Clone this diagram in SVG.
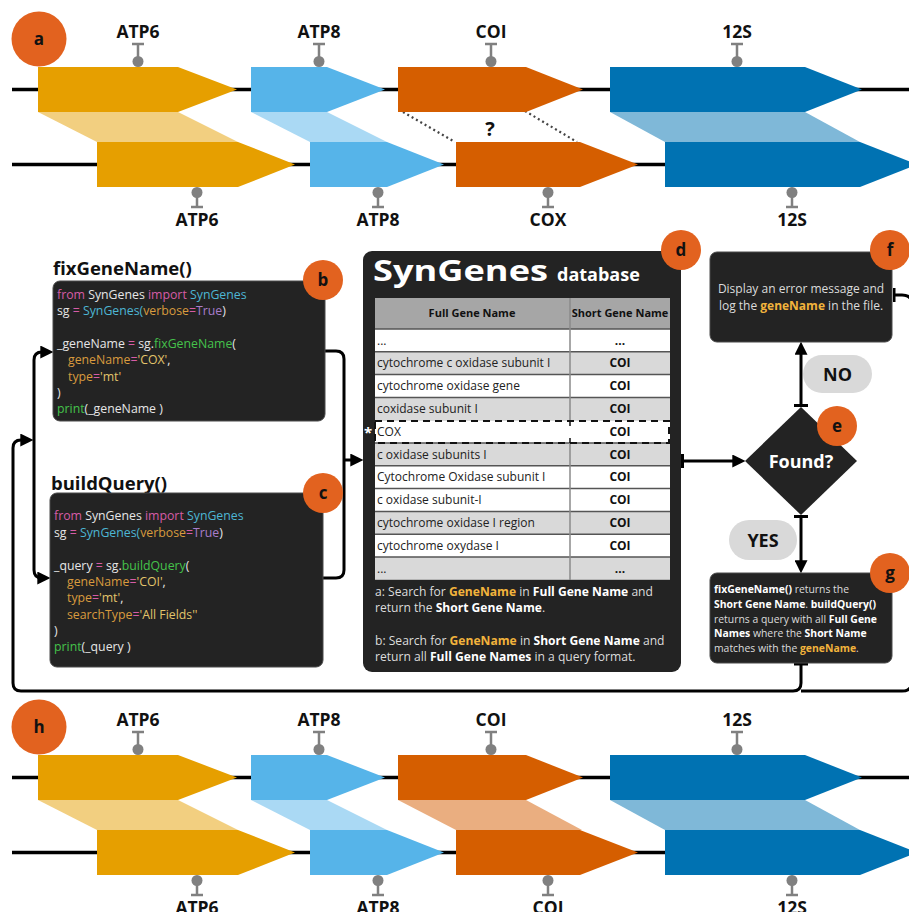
<svg xmlns="http://www.w3.org/2000/svg" width="909" height="912" viewBox="0 0 909 912">
<style>
text{font-family:"Open Sans","Noto Sans","Liberation Sans",sans-serif}
.lbl{font-size:17.5px;font-weight:700;fill:#111;text-anchor:middle}
.ln{stroke:#000;stroke-width:3.5}
.mk{stroke:#808080;stroke-width:2.5;fill:none}
.mkc{fill:#808080}
.g1{fill:#E69F00}.g1l{fill:#F2CF80}
.g2{fill:#56B4E9}.g2l{fill:#AAD9F4}
.g3{fill:#D55E00}.g3l{fill:#EAAE80}
.g4{fill:#0072B2}.g4l{fill:#7FB8D8}
.badge{fill:#E2621F}
.bt{font-size:17px;font-weight:700;fill:#111;text-anchor:middle}
.box{fill:#232323;stroke:#4a4a4a;stroke-width:1}
.code{font-size:12.3px;fill:#E6E6E6}
.kw{fill:#D65CA6}.cy{fill:#4DB6D4}.or{fill:#D99B3E}.pu{fill:#A97DCB}.ye{fill:#E2C46A}.gr{fill:#45C24B}
.ttl{font-size:18.5px;font-weight:700;fill:#111}
.cell{font-size:12px;fill:#222}
.cellb{font-size:12px;fill:#111;font-weight:700;text-anchor:middle}
.cap{font-size:12.1px;fill:#DCDCDC}
.w{font-weight:700;fill:#fff}
.o{font-weight:700;fill:#F2B33C}
.con{fill:none;stroke:#000;stroke-width:3}
.pill{fill:#D9D9D9}
.pt{font-size:18px;font-weight:700;fill:#111;text-anchor:middle}
</style>
<defs>
<marker id="arr" viewBox="0 0 12 12" markerUnits="userSpaceOnUse" markerWidth="13" markerHeight="13" refX="8" refY="6" orient="auto"><path d="M0,0 L12,6 L0,12 z" fill="#000"/></marker>
<marker id="tee" viewBox="0 0 3 14" markerUnits="userSpaceOnUse" markerWidth="3" markerHeight="14" refX="1.5" refY="7" orient="auto"><rect width="3" height="14" fill="#000"/></marker>
<g id="mTop"><path class="mk" d="M-6,44 H6 M0,44 V60"/><circle class="mkc" cx="0" cy="61.5" r="5.5"/></g>
<g id="mBot"><path class="mk" d="M-6,207 H6 M0,207 V193"/><circle class="mkc" cx="0" cy="192.5" r="5.5"/></g>
</defs>
<rect width="909" height="912" fill="#fff"/>

<!-- Panel a -->
<g id="panel-a">
<line class="ln" x1="12" y1="89.5" x2="909" y2="89.5"/>
<line class="ln" x1="12" y1="164.5" x2="909" y2="164.5"/>
<polygon class="g1l" points="38,112 178,112 238,142 97,142"/>
<polygon class="g2l" points="251,112 327,112 387,142 310,142"/>
<polygon class="g4l" points="610,112 805,112 860,142 665,142"/>
<path d="M403,112 L455,142 M525,111 L577,142" stroke="#444" stroke-width="2.2" stroke-dasharray="2,3" fill="none"/>
<text x="490" y="136" class="lbl" style="font-size:20px">?</text>
<g id="a-ATP6-top"><polygon class="g1" points="38,67 178,67 237,89.5 178,112 38,112"/><use href="#mTop" x="138"/><text x="138" y="38" class="lbl">ATP6</text></g>
<g id="a-ATP8-top"><polygon class="g2" points="251,67 327,67 385,89.5 327,112 251,112"/><use href="#mTop" x="319"/><text x="319" y="38" class="lbl">ATP8</text></g>
<g id="a-COI-top"><polygon class="g3" points="398,67 526,67 583,89.5 526,112 398,112"/><use href="#mTop" x="491"/><text x="491" y="38" class="lbl">COI</text></g>
<g id="a-12S-top"><polygon class="g4" points="610,67 805,67 862,89.5 805,112 610,112"/><use href="#mTop" x="737"/><text x="737" y="38" class="lbl">12S</text></g>
<g id="a-ATP6-bot"><polygon class="g1" points="97,142 238,142 295,164.5 238,187 97,187"/><use href="#mBot" x="197"/><text x="197" y="226" class="lbl">ATP6</text></g>
<g id="a-ATP8-bot"><polygon class="g2" points="310,142 387,142 444,164.5 387,187 310,187"/><use href="#mBot" x="378"/><text x="378" y="226" class="lbl">ATP8</text></g>
<g id="a-COX-bot"><polygon class="g3" points="456,142 580,142 638,164.5 580,187 456,187"/><use href="#mBot" x="548"/><text x="548" y="226" class="lbl">COX</text></g>
<g id="a-12S-bot"><polygon class="g4" points="665,142 860,142 917,164.5 860,187 665,187"/><use href="#mBot" x="792"/><text x="792" y="226" class="lbl">12S</text></g>
<g id="badge-a"><circle class="badge" cx="39" cy="39" r="27.5"/><text x="39" y="45" class="bt">a</text></g>
</g>

<!-- Panel h -->
<g id="panel-h" transform="translate(0,688)">
<line class="ln" x1="12" y1="89.5" x2="909" y2="89.5"/>
<line class="ln" x1="12" y1="164.5" x2="909" y2="164.5"/>
<polygon class="g1l" points="38,112 178,112 238,142 97,142"/>
<polygon class="g2l" points="251,112 327,112 387,142 310,142"/>
<polygon class="g3l" points="398,112 526,112 582,142 456,142"/>
<polygon class="g4l" points="610,112 805,112 860,142 665,142"/>
<g id="h-ATP6-top"><polygon class="g1" points="38,67 178,67 237,89.5 178,112 38,112"/><use href="#mTop" x="138"/><text x="138" y="38" class="lbl">ATP6</text></g>
<g id="h-ATP8-top"><polygon class="g2" points="251,67 327,67 385,89.5 327,112 251,112"/><use href="#mTop" x="319"/><text x="319" y="38" class="lbl">ATP8</text></g>
<g id="h-COI-top"><polygon class="g3" points="398,67 526,67 583,89.5 526,112 398,112"/><use href="#mTop" x="491"/><text x="491" y="38" class="lbl">COI</text></g>
<g id="h-12S-top"><polygon class="g4" points="610,67 805,67 862,89.5 805,112 610,112"/><use href="#mTop" x="737"/><text x="737" y="38" class="lbl">12S</text></g>
<g id="h-ATP6-bot"><polygon class="g1" points="97,142 238,142 295,164.5 238,187 97,187"/><use href="#mBot" x="197"/><text x="197" y="226" class="lbl">ATP6</text></g>
<g id="h-ATP8-bot"><polygon class="g2" points="310,142 387,142 444,164.5 387,187 310,187"/><use href="#mBot" x="378"/><text x="378" y="226" class="lbl">ATP8</text></g>
<g id="h-COI-bot"><polygon class="g3" points="456,142 580,142 638,164.5 580,187 456,187"/><use href="#mBot" x="548"/><text x="548" y="226" class="lbl">COI</text></g>
<g id="h-12S-bot"><polygon class="g4" points="665,142 860,142 917,164.5 860,187 665,187"/><use href="#mBot" x="792"/><text x="792" y="226" class="lbl">12S</text></g>
<g id="badge-h"><circle class="badge" cx="39" cy="39" r="27.5"/><text x="39" y="45" class="bt">h</text></g>
</g>

<!-- Connectors -->
<g id="connectors">
<path class="con" d="M325,351 H336 Q344,351 344,359 V460"/>
<path class="con" d="M323,578 H336 Q344,578 344,570 V460"/>
<path class="con" d="M344,460 H359" marker-end="url(#arr)"/>
<path class="con" d="M34,440 V360 Q34,352 42,352 H49" marker-end="url(#arr)"/>
<path class="con" d="M34,440 V570 Q34,578 42,578 H46" marker-end="url(#arr)"/>
<path class="con" d="M801,664 V683 Q801,691 793,691 H21 Q13,691 13,683 V448 Q13,440 21,440 H29" marker-start="url(#tee)" marker-end="url(#arr)"/>
<path class="con" d="M894,295 H902 Q912,295 912,305 V681 Q912,691 902,691 H801" marker-start="url(#tee)"/>
<path class="con" d="M682.5,461 H741" marker-start="url(#tee)" marker-end="url(#arr)"/>
<path class="con" d="M801,405.5 V346" marker-start="url(#tee)" marker-end="url(#arr)"/>
<path class="con" d="M801,516.5 V569" marker-start="url(#tee)" marker-end="url(#arr)"/>
</g>

<!-- b -->
<g id="node-b">
<text x="53" y="275" class="ttl">fixGeneName()</text>
<rect class="box" x="53" y="281" width="272" height="140" rx="7"/>
<text class="code" x="57" y="298.5"><tspan class="kw">from</tspan> SynGenes <tspan class="kw">import</tspan> <tspan class="cy">SynGenes</tspan></text>
<text class="code" x="57" y="315">sg <tspan class="kw">=</tspan> <tspan class="cy">SynGenes(</tspan><tspan class="or">verbose</tspan><tspan class="kw">=</tspan><tspan class="pu">True</tspan>)</text>
<text class="code" x="57" y="348">_geneName <tspan class="kw">=</tspan> sg.<tspan class="gr">fixGeneName</tspan>(</text>
<text class="code" x="68" y="364"><tspan class="or">geneName</tspan><tspan class="kw">=</tspan><tspan class="ye">'COX'</tspan>,</text>
<text class="code" x="68" y="380.5"><tspan class="or">type</tspan><tspan class="kw">=</tspan><tspan class="ye">'mt'</tspan></text>
<text class="code" x="57" y="397">)</text>
<text class="code" x="57" y="413"><tspan class="gr">print</tspan>(_geneName )</text>
<circle class="badge" cx="323" cy="280" r="20"/><text x="323" y="286" class="bt">b</text>
</g>

<!-- c -->
<g id="node-c">
<text x="51" y="490" class="ttl">buildQuery()</text>
<rect class="box" x="50" y="493" width="273" height="174" rx="7"/>
<text class="code" x="54" y="520"><tspan class="kw">from</tspan> SynGenes <tspan class="kw">import</tspan> <tspan class="cy">SynGenes</tspan></text>
<text class="code" x="54" y="536.5">sg <tspan class="kw">=</tspan> <tspan class="cy">SynGenes(</tspan><tspan class="or">verbose</tspan><tspan class="kw">=</tspan><tspan class="pu">True</tspan>)</text>
<text class="code" x="54" y="569.5">_query <tspan class="kw">=</tspan> sg.<tspan class="gr">buildQuery</tspan>(</text>
<text class="code" x="67" y="586"><tspan class="or">geneName</tspan><tspan class="kw">=</tspan><tspan class="ye">'COI'</tspan>,</text>
<text class="code" x="67" y="602"><tspan class="or">type</tspan><tspan class="kw">=</tspan><tspan class="ye">'mt'</tspan>,</text>
<text class="code" x="67" y="618.5"><tspan class="or">searchType</tspan><tspan class="kw">=</tspan><tspan class="ye">'All Fields''</tspan></text>
<text class="code" x="54" y="635">)</text>
<text class="code" x="54" y="651"><tspan class="gr">print</tspan>(_query )</text>
<circle class="badge" cx="323" cy="493" r="20"/><text x="323" y="499" class="bt">c</text>
</g>

<!-- d -->
<g id="node-d">
<rect x="363" y="251" width="318" height="421" rx="9" fill="#232323"/>
<text x="373" y="281" style="font-size:29px;font-weight:700;fill:#fff" textLength="175" lengthAdjust="spacingAndGlyphs">SynGenes</text>
<text x="557" y="281" style="font-size:18px;font-weight:700;fill:#fff">database</text>
<rect x="375" y="298" width="295" height="31" fill="#A6A6A6"/>
<g fill="#D9D9D9">
<rect x="375" y="351.8" width="295" height="22.8"/>
<rect x="375" y="397.4" width="295" height="22.8"/>
<rect x="375" y="443" width="295" height="22.8"/>
<rect x="375" y="511.4" width="295" height="22.8"/>
<rect x="375" y="557" width="295" height="22.8"/>
</g>
<g fill="#fff">
<rect x="375" y="329" width="295" height="22.8"/>
<rect x="375" y="374.6" width="295" height="22.8"/>
<rect x="375" y="420.2" width="295" height="22.8"/>
<rect x="375" y="465.8" width="295" height="22.8"/>
<rect x="375" y="488.6" width="295" height="22.8"/>
<rect x="375" y="534.2" width="295" height="22.8"/>
</g>
<g stroke="#555" stroke-width="1.5">
<line x1="375" y1="329" x2="670" y2="329"/>
<line x1="375" y1="351.8" x2="670" y2="351.8"/>
<line x1="375" y1="374.6" x2="670" y2="374.6"/>
<line x1="375" y1="397.4" x2="670" y2="397.4"/>
<line x1="375" y1="443" x2="670" y2="443"/>
<line x1="375" y1="465.8" x2="670" y2="465.8"/>
<line x1="375" y1="488.6" x2="670" y2="488.6"/>
<line x1="375" y1="511.4" x2="670" y2="511.4"/>
<line x1="375" y1="534.2" x2="670" y2="534.2"/>
<line x1="375" y1="557" x2="670" y2="557"/>
</g>
<g stroke="#8a8a8a" stroke-width="1.5">
<line x1="570" y1="298" x2="570" y2="420.2"/>
<line x1="570" y1="443" x2="570" y2="580"/>
</g>
<rect x="375" y="421" width="294" height="22" fill="none" stroke="#111" stroke-width="2" stroke-dasharray="7,5"/>
<line x1="570" y1="421" x2="570" y2="443" stroke="#111" stroke-width="1.5" stroke-dasharray="5,12"/>
<text x="472" y="317" style="font-size:11px;font-weight:700;fill:#111;text-anchor:middle">Full Gene Name</text>
<text x="620" y="317" style="font-size:11px;font-weight:700;fill:#111;text-anchor:middle">Short Gene Name</text>
<text class="cell" x="377" y="344.5">...</text><text class="cellb" x="620" y="344.5">...</text>
<text class="cell" x="377" y="367.3">cytochrome c oxidase subunit I</text><text class="cellb" x="620" y="367.3">COI</text>
<text class="cell" x="377" y="390.1">cytochrome oxidase gene</text><text class="cellb" x="620" y="390.1">COI</text>
<text class="cell" x="377" y="412.9">coxidase subunit I</text><text class="cellb" x="620" y="412.9">COI</text>
<text class="cell" x="377" y="435.7">COX</text><text class="cellb" x="620" y="435.7">COI</text>
<text class="cell" x="377" y="458.5">c oxidase subunits I</text><text class="cellb" x="620" y="458.5">COI</text>
<text class="cell" x="377" y="481.3">Cytochrome Oxidase subunit I</text><text class="cellb" x="620" y="481.3">COI</text>
<text class="cell" x="377" y="504.1">c oxidase subunit-I</text><text class="cellb" x="620" y="504.1">COI</text>
<text class="cell" x="377" y="526.9">cytochrome oxidase I region</text><text class="cellb" x="620" y="526.9">COI</text>
<text class="cell" x="377" y="549.7">cytochrome oxydase I</text><text class="cellb" x="620" y="549.7">COI</text>
<text class="cell" x="377" y="572.5">...</text><text class="cellb" x="620" y="572.5">...</text>
<text x="368" y="438" style="font-size:15px;font-weight:700;fill:#fff;text-anchor:middle">*</text>
<text class="cap" x="375" y="596">a: Search for <tspan class="o">GeneName</tspan> in <tspan class="w">Full Gene Name</tspan> and</text>
<text class="cap" x="375" y="612">return the <tspan class="w">Short Gene Name</tspan>.</text>
<text class="cap" x="375" y="645">b: Search for <tspan class="o">GeneName</tspan> in <tspan class="w">Short Gene Name</tspan> and</text>
<text class="cap" x="375" y="661">return all <tspan class="w">Full Gene Names</tspan> in a query format.</text>
<circle class="badge" cx="681" cy="250" r="20"/><text x="681" y="256" class="bt">d</text>
</g>

<!-- e -->
<g id="node-e">
<polygon points="801,407 857,461 801,515 745,461" fill="#232323"/>
<text x="801" y="468" style="font-size:18px;font-weight:700;fill:#fff;text-anchor:middle">Found?</text>
<circle class="badge" cx="837" cy="426" r="20"/><text x="837" y="432" class="bt">e</text>
</g>

<!-- f -->
<g id="node-f">
<rect class="box" x="710" y="252" width="182" height="90" rx="7"/>
<text x="801" y="292.5" style="font-size:12px;fill:#DCDCDC;text-anchor:middle">Display an error message and</text>
<text x="801" y="309.5" style="font-size:12px;fill:#DCDCDC;text-anchor:middle">log the <tspan class="o">geneName</tspan> in the file.</text>
<circle class="badge" cx="890" cy="250" r="20"/><text x="890" y="256" class="bt">f</text>
</g>

<!-- g -->
<g id="node-g">
<rect class="box" x="710" y="573" width="182" height="90" rx="7"/>
<g style="font-size:10.4px;fill:#DCDCDC">
<text x="714" y="593"><tspan class="w">fixGeneName()</tspan> returns the</text>
<text x="714" y="608"><tspan class="w">Short Gene Name</tspan>. <tspan class="w">buildQuery()</tspan></text>
<text x="714" y="622.5">returns a query with all <tspan class="w">Full Gene</tspan></text>
<text x="714" y="637"><tspan class="w">Names</tspan> where the <tspan class="w">Short Name</tspan></text>
<text x="714" y="652">matches with the <tspan class="o">geneName</tspan>.</text>
</g>
<circle class="badge" cx="890" cy="573" r="20"/><text x="890" y="579" class="bt">g</text>
</g>

<!-- pills -->
<g id="label-no"><rect class="pill" x="803" y="355" width="69" height="38" rx="19"/><text x="837.5" y="381" class="pt">NO</text></g>
<g id="label-yes"><rect class="pill" x="729" y="520" width="68" height="40" rx="20"/><text x="763" y="547" class="pt">YES</text></g>
</svg>
